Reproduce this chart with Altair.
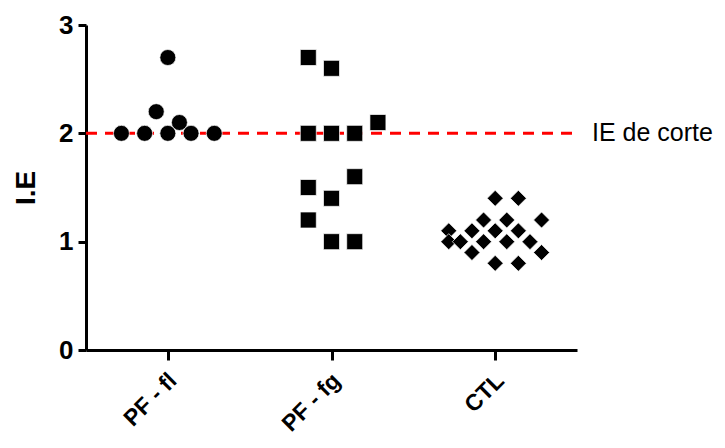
import altair as alt
import pandas as pd

categories = ["PF - fl", "PF - fg", "CTL"]
shapes = ["circle", "square", "diamond"]

pf_fl_values = [2.7, 2.2, 2.1, 2.0, 2.0, 2.0, 2.0, 2.0]
pf_fl_slots = [0, -1, 1, -4, -2, 0, 2, 4]
pf_fg_values = [2.7, 2.6, 2.1, 2.0, 2.0, 2.0, 1.6, 1.5, 1.4, 1.2, 1.0, 1.0]
pf_fg_slots = [-2, 0, 4, -2, 0, 2, 2, -2, 0, -2, 0, 2]
ctl_values = [1.4, 1.4, 1.2, 1.2, 1.2, 1.1, 1.1, 1.1, 1.1,
              1.0, 1.0, 1.0, 1.0, 1.0, 0.9, 0.9, 0.8, 0.8]
ctl_slots = [0, 2, -1, 1, 4, -4, -2, 0, 2, -4, -3, -1, 1, 3, -2, 4, 0, 2]

cutoff = 2.0
cutoff_label = "IE de corte"
y_ticks = [0, 1, 2, 3]

SLOT = 0.0709  # jitter step, in category units

rows = []
for i, (cat, vals, slots) in enumerate(zip(categories,
                                           [pf_fl_values, pf_fg_values, ctl_values],
                                           [pf_fl_slots, pf_fg_slots, ctl_slots])):
    for v, s in zip(vals, slots):
        rows.append({"group": cat, "x": i + 0.5 + s * SLOT, "y": v})
df = pd.DataFrame(rows)

cut_df = pd.DataFrame({"x": [0], "x2": [len(categories)], "y": [cutoff], "label": [cutoff_label]})

label_expr = " : ".join(
    [f"datum.value == {i + 0.5} ? '{c}'" for i, c in enumerate(categories)]
) + " : ''"

FONT = "Liberation Sans"

xscale = alt.Scale(domain=[0, len(categories)], nice=False, zero=False)
yscale = alt.Scale(domain=[0, 3], nice=False)

rule = alt.Chart(cut_df).mark_rule(color="#ff0000", strokeWidth=3, strokeDash=[11, 8]).encode(
    x=alt.X("x:Q", scale=xscale),
    x2="x2:Q",
    y=alt.Y("y:Q", scale=yscale),
)

label = alt.Chart(cut_df).mark_text(
    align="left", baseline="middle", dx=15, fontSize=25, font=FONT, color="black"
).encode(
    x=alt.X("x2:Q", scale=xscale),
    y=alt.Y("y:Q", scale=yscale),
    text="label:N",
)

points = alt.Chart(df).mark_point(filled=True, opacity=1, stroke="white", strokeWidth=0.7).encode(
    x=alt.X("x:Q", scale=xscale,
            axis=alt.Axis(values=[i + 0.5 for i in range(len(categories))], labelExpr=label_expr,
                          title=None, tickSize=10, labelAngle=-45, labelAlign="right",
                          labelBaseline="top", labelPadding=9, labelOffset=-3, labelFontSize=23,
                          grid=False)),
    y=alt.Y("y:Q", scale=yscale,
            axis=alt.Axis(values=y_ticks, format="d", title="I.E", tickSize=8, labelPadding=5,
                          titlePadding=18, grid=False)),
    shape=alt.Shape("group:N", scale=alt.Scale(domain=categories, range=shapes), legend=None),
    size=alt.Size("group:N", scale=alt.Scale(domain=categories, range=[256, 256, 320]), legend=None),
    color=alt.value("black"),
)

chart = alt.layer(rule, points, label).properties(
    width=491, height=325,
    autosize=alt.AutoSizeParams(type="none"),
    padding={"left": 78, "top": 17, "right": 140, "bottom": 90},
).configure_view(stroke=None).configure_axis(
    domainColor="black", domainWidth=3, tickColor="black", tickWidth=3,
    labelFont=FONT, labelFontSize=26, labelFontWeight="bold", labelColor="black",
    titleFont=FONT, titleFontSize=28, titleFontWeight="bold", titleColor="black",
)

chart.save("out.html", embed_options={"renderer": "svg", "actions": False})
